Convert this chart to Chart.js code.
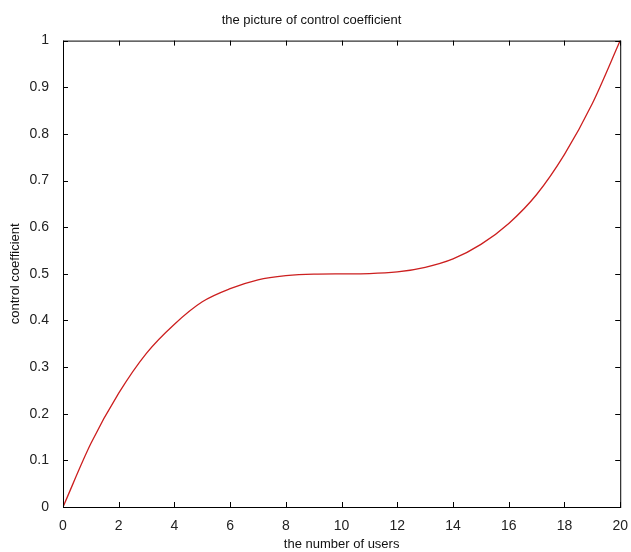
<!DOCTYPE html>
<html>
<head>
<meta charset="utf-8">
<script src="https://cdn.jsdelivr.net/npm/chart.js@4/dist/chart.umd.min.js"></script>
<style>
  html, body { margin: 0; padding: 0; background: #fff; }
  #wrap { width: 631px; height: 552px; }
</style>
</head>
<body>
<div id="wrap"><canvas id="coefChart"></canvas></div>
<script>
const users = [0, 1, 2, 3, 4, 5, 6, 7, 8, 9, 10, 11, 12, 13, 14, 15, 16, 17, 18, 19, 20];
const coefficient = [
  0, 0.136, 0.244, 0.33, 0.392, 0.44, 0.468, 0.487, 0.496, 0.4995, 0.5,
  0.5005, 0.504, 0.514, 0.532, 0.563, 0.608, 0.67, 0.756, 0.865, 1.0,
];
const xTicks = [0, 2, 4, 6, 8, 10, 12, 14, 16, 18, 20];
const yTicks = [0, 0.1, 0.2, 0.3, 0.4, 0.5, 0.6, 0.7, 0.8, 0.9, 1];

const FONT = "'Liberation Sans', Arial, sans-serif";

// matlab style box with inward ticks on all sides
const boxPlugin = {
  id: "matlabBox",
  afterDraw(chart) {
    const { ctx, chartArea: a, scales } = chart;
    ctx.save();
    ctx.strokeStyle = "#000";
    ctx.lineWidth = 1;
    ctx.strokeRect(a.left + 0.5, a.top + 0.5, a.right - a.left, a.bottom - a.top);
    ctx.beginPath();
    xTicks.forEach((v) => {
      const px = Math.round(scales.x.getPixelForValue(v)) + 0.5;
      ctx.moveTo(px, a.bottom); ctx.lineTo(px, a.bottom - 5);
      ctx.moveTo(px, a.top); ctx.lineTo(px, a.top + 5);
    });
    yTicks.forEach((v) => {
      const py = Math.round(scales.y.getPixelForValue(v)) + 0.5;
      ctx.moveTo(a.left, py); ctx.lineTo(a.left + 5, py);
      ctx.moveTo(a.right, py); ctx.lineTo(a.right - 5, py);
    });
    ctx.stroke();
    ctx.restore();
  },
};

new Chart(document.getElementById("coefChart"), {
  type: "line",
  data: {
    labels: users,
    datasets: [{
      data: users.map((u, i) => ({ x: u, y: coefficient[i] })),
      borderColor: "#cc1f1f",
      borderWidth: 1.3,
      pointRadius: 0,
      cubicInterpolationMode: "monotone",
      fill: false,
    }],
  },
  options: {
    responsive: true,
    maintainAspectRatio: false,
    animation: false,
    layout: { padding: { left: 0, right: 8, top: 0, bottom: 0 } },
    plugins: {
      legend: { display: false },
      tooltip: { enabled: false },
      title: {
        display: true,
        text: "the picture of control coefficient",
        color: "#111",
        font: { family: FONT, size: 13, weight: "normal" },
        padding: { top: 13, bottom: 12 },
      },
    },
    scales: {
      x: {
        type: "linear",
        min: 0, max: 20,
        afterBuildTicks: (s) => { s.ticks = xTicks.map((v) => ({ value: v })); },
        afterFit: (s) => { s.height = 45; },
        grid: { display: false },
        border: { display: false },
        ticks: { color: "#222", padding: 3, maxRotation: 0, font: { family: FONT, size: 14 } },
        title: {
          display: true, text: "the number of users", color: "#111",
          font: { family: FONT, size: 13 }, padding: { top: 0, bottom: 0 },
        },
      },
      y: {
        min: 0, max: 1,
        afterBuildTicks: (s) => { s.ticks = yTicks.map((v) => ({ value: v })); },
        afterFit: (s) => { s.width = 63; },
        grid: { display: false },
        border: { display: false },
        ticks: {
          color: "#222", padding: 6, font: { family: FONT, size: 14 },
          callback: (v) => String(Math.round(v * 10) / 10),
        },
        title: {
          display: true, text: "control coefficient", color: "#111",
          font: { family: FONT, size: 13 }, padding: { top: 8, bottom: 0 },
        },
      },
    },
  },
  plugins: [boxPlugin],
});
</script>
</body>
</html>
